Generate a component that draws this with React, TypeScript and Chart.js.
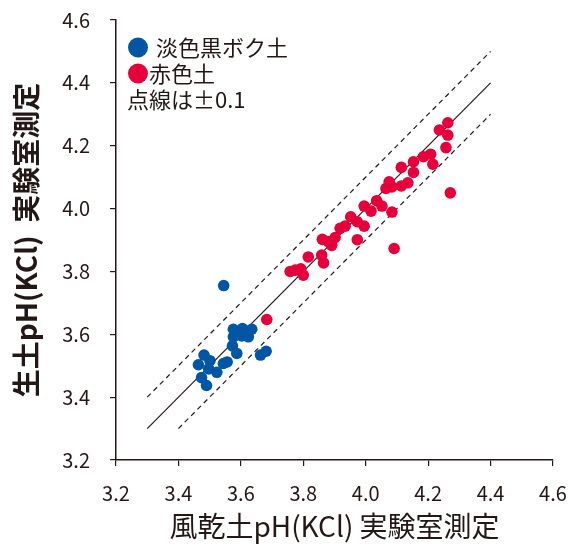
import React, { useEffect, useRef } from "react";
import { Chart, registerables } from "chart.js";

Chart.register(...registerables);

const blueLabel = "淡色黒ボク土";
const redLabel = "赤色土";
const noteLabel = "点線は±0.1";
const xTitle = "風乾土pH(KCl) 実験室測定";
const yTitle = "生土pH(KCl)  実験室測定";

const blueX = [3.545, 3.576, 3.605, 3.635, 3.576, 3.603, 3.624, 3.573, 3.587, 3.663, 3.681, 3.482, 3.464, 3.501, 3.497, 3.523, 3.544, 3.556, 3.474, 3.490];
const blueY = [3.755, 3.616, 3.618, 3.616, 3.592, 3.595, 3.592, 3.563, 3.539, 3.534, 3.546, 3.534, 3.503, 3.516, 3.490, 3.479, 3.507, 3.512, 3.462, 3.437];

const redX = [3.683, 3.758, 3.774, 3.792, 3.800, 3.816, 3.859, 3.865, 3.861, 3.891, 3.902, 3.880, 3.918, 3.934, 3.952, 3.973, 3.995, 3.973, 3.995, 4.017, 4.035, 4.052, 4.084, 4.091, 4.065, 4.075, 4.084, 4.114, 4.135, 4.114, 4.153, 4.153, 4.185, 4.208, 4.215, 4.236, 4.263, 4.263, 4.257, 4.271];
const redY = [3.647, 3.800, 3.804, 3.808, 3.788, 3.846, 3.852, 3.827, 3.902, 3.883, 3.908, 3.895, 3.937, 3.944, 3.974, 3.958, 3.944, 3.901, 4.008, 3.992, 4.025, 4.008, 3.989, 3.873, 4.064, 4.085, 4.069, 4.072, 4.082, 4.131, 4.149, 4.115, 4.165, 4.173, 4.141, 4.250, 4.273, 4.234, 4.194, 4.050];

const refX = [3.3, 4.4];
const refY = [3.3, 4.4];
const upperX = [3.3, 4.4];
const upperY = [3.4, 4.5];
const lowerX = [3.4, 4.4];
const lowerY = [3.3, 4.3];

const BLUE = "#0055a5";
const RED = "#e5003c";
const INK = "#231815";
const FONT = '"Noto Sans CJK JP", "Noto Sans", sans-serif';

const pts = (xs: number[], ys: number[]) => xs.map((x, i) => ({ x, y: ys[i] }));

const legendPlugin = {
  id: "customLegend",
  afterDraw(chart: any) {
    const { ctx, chartArea } = chart;
    const l = chartArea.left;
    const t = chartArea.top;
    ctx.save();
    ctx.fillStyle = BLUE;
    ctx.beginPath();
    ctx.arc(l + 22, t + 27.5, 10, 0, Math.PI * 2);
    ctx.fill();
    ctx.fillStyle = RED;
    ctx.beginPath();
    ctx.arc(l + 22, t + 53.5, 10, 0, Math.PI * 2);
    ctx.fill();
    ctx.fillStyle = INK;
    ctx.font = `22px ${FONT}`;
    ctx.textBaseline = "middle";
    ctx.textAlign = "left";
    ctx.fillText(blueLabel, l + 40, t + 28);
    ctx.fillText(redLabel, l + 33, t + 54);
    ctx.fillText(noteLabel, l + 11, t + 80);
    ctx.restore();
  },
};

export default function App() {
  const ref = useRef<HTMLCanvasElement>(null);
  useEffect(() => {
    if (!ref.current) return;
    const chart = new Chart(ref.current, {
      type: "scatter",
      data: {
        datasets: [
          {
            label: blueLabel,
            data: pts(blueX, blueY),
            backgroundColor: BLUE,
            borderWidth: 0,
            pointRadius: 5.8,
          },
          {
            label: redLabel,
            data: pts(redX, redY),
            backgroundColor: RED,
            borderWidth: 0,
            pointRadius: 5.8,
          },
          {
            type: "line",
            label: "1:1",
            data: pts(refX, refY),
            borderColor: INK,
            borderWidth: 1.2,
            pointRadius: 0,
            showLine: true,
            fill: false,
          },
          {
            type: "line",
            label: "+0.1",
            data: pts(upperX, upperY),
            borderColor: INK,
            borderWidth: 1.2,
            borderDash: [5, 4],
            pointRadius: 0,
            showLine: true,
            fill: false,
          },
          {
            type: "line",
            label: "-0.1",
            data: pts(lowerX, lowerY),
            borderColor: INK,
            borderWidth: 1.2,
            borderDash: [5, 4],
            pointRadius: 0,
            showLine: true,
            fill: false,
          },
        ] as any,
      },
      options: {
        animation: false,
        responsive: false,
        layout: { padding: { left: 0, top: 12, right: 15, bottom: 0 } },
        plugins: {
          legend: { display: false },
          tooltip: { enabled: false },
        },
        scales: {
          x: {
            type: "linear",
            min: 3.2,
            max: 4.6,
            ticks: {
              stepSize: 0.2,
              padding: 15,
              color: INK,
              font: { family: FONT, size: 20 },
              callback: (v: any) => Number(v).toFixed(1),
            },
            grid: { drawOnChartArea: false, drawTicks: true, tickLength: 6, color: INK, lineWidth: 1.2 },
            border: { color: INK, width: 1.5 },
            title: {
              display: true,
              text: xTitle,
              color: INK,
              font: { family: FONT, size: 28 },
              padding: { top: 0, bottom: 3 },
            },
            afterFit: (s: any) => {
              s.height = 86;
              s.paddingLeft = 0;
              s.paddingRight = 0;
            },
          },
          y: {
            type: "linear",
            min: 3.2,
            max: 4.6,
            ticks: {
              stepSize: 0.2,
              padding: 20,
              color: INK,
              font: { family: FONT, size: 20 },
              callback: (v: any) => Number(v).toFixed(1),
            },
            grid: { drawOnChartArea: false, drawTicks: true, tickLength: 6, color: INK, lineWidth: 1.2 },
            border: { color: INK, width: 1.5 },
            title: {
              display: true,
              text: yTitle,
              color: INK,
              font: { family: FONT, size: 28, weight: "bold" },
              padding: { top: 2, bottom: 0 },
            },
            afterFit: (s: any) => {
              s.width = 108;
              s.paddingTop = 0;
              s.paddingBottom = 0;
            },
          },
        },
      },
      plugins: [legendPlugin],
    });
    return () => chart.destroy();
  }, []);
  return <canvas ref={ref} width={560} height={538} style={{ display: "block" }} />;
}
